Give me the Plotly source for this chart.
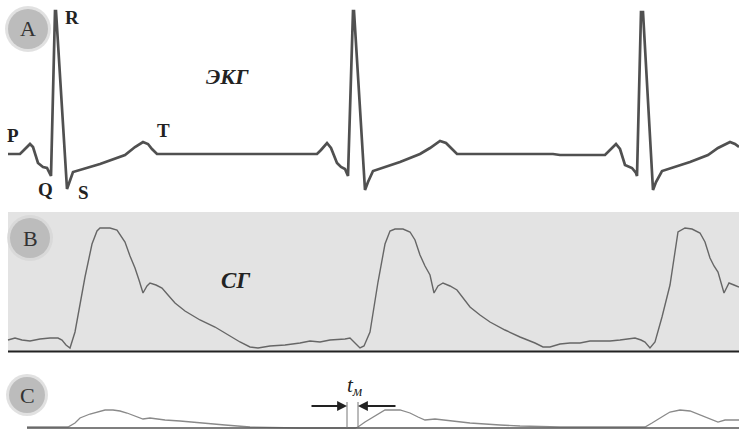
import plotly.graph_objects as go

W, H = 739, 430

# ---- Panel A: ECG (time in samples, amplitude relative to isoline) ----
ecg_t = [8, 20, 24, 30, 33, 38, 43, 47, 50, 51, 55, 56, 67, 70, 73, 100, 125, 135, 143, 148, 152, 157,
         317, 321, 327, 331, 337, 341, 345, 348, 353, 354, 365, 368, 373, 400, 420, 430, 440, 446, 451, 457,
         553, 560, 605, 610, 616, 620, 625, 632, 636, 637, 641, 643, 653, 656, 662, 690, 708, 718, 730, 735, 739]
ecg_v = [0, 0, 4, 10, 7, -9, -13, -14, -20, -22, 143, 143, -35, -26, -18, -10, -1, 7, 12, 10, 5, 0,
         0, 4, 11, 6, -9, -13, -15, -22, 143, 143, -36, -28, -17, -8, 0, 6, 13, 11, 6, 0,
         0, -1, -1, 4, 10, 5, -11, -14, -19, -22, 142, 142, -36, -28, -17, -8, -1, 6, 12, 10, 7]

# ---- Panel B: SG ----
sg_t = [8, 15, 22, 30, 40, 50, 58, 62, 66, 70, 75, 85, 92, 97, 100, 110, 117, 125, 130, 135, 139, 143,
        147, 150, 156, 162, 168, 175, 185, 200, 215, 225, 240, 250, 258, 270, 285, 300, 310, 320, 330, 345,
        350, 356, 360, 364, 370, 378, 385, 390, 395, 403, 410, 415, 420, 425, 430, 434, 438, 443, 450, 457,
        463, 470, 480, 490, 505, 520, 535, 543, 550, 560, 570, 580, 590, 600, 610, 620, 635, 641, 645, 650,
        655, 662, 670, 678, 685, 692, 700, 705, 710, 714, 718, 724, 729, 734, 739]
sg_v = [12, 14, 12, 11, 13, 14, 14, 12, 7, 4, 20, 75, 108, 121, 124, 124, 122, 110, 96, 84, 72, 59,
        66, 69, 67, 64, 57, 49, 41, 32, 25, 19, 10, 5, 4, 6, 7, 9, 11, 10, 12, 13,
        14, 8, 4, 6, 20, 70, 108, 121, 123, 123, 120, 112, 97, 86, 77, 59, 66, 69, 66, 62,
        54, 45, 37, 30, 22, 15, 9, 5, 5, 8, 9, 9, 11, 11, 11, 12, 14, 12, 10, 4,
        10, 35, 67, 120, 124, 123, 119, 110, 94, 86, 80, 59, 69, 67, 65]

# ---- Panel C ----
c_t = [27, 40, 68, 75, 80, 90, 97, 105, 113, 120, 127, 135, 143, 150, 165, 180, 200, 225, 250, 300, 355,
       358, 365, 372, 380, 385, 400, 410, 418, 425, 435, 450, 470, 500, 520, 560, 645,
       652, 658, 665, 670, 680, 690, 700, 710, 718, 725, 739]
c_v = [1, 1, 1, 5, 10, 14, 16, 18, 18, 17, 15, 12, 9, 10, 8, 7, 5, 3, 1, 0, 0,
       1, 6, 10, 15, 18, 18, 15, 11, 8, 9, 7, 5, 3, 2, 1, 1,
       5, 9, 13, 16, 18, 17, 13, 9, 6, 8, 8]

tm_bounds = [347, 358]
tm_level = 22
tm_top = 26

SERIF = "Liberation Serif"


def px(x):
    return x / W


def py(y):
    return 1 - y / H


fig = go.Figure()
fig.add_trace(go.Scatter(x=ecg_t, y=ecg_v, mode="lines", yaxis="y",
                         line=dict(color="#505050", width=2.7), hoverinfo="skip"))
fig.add_trace(go.Scatter(x=sg_t, y=sg_v, mode="lines", yaxis="y2",
                         line=dict(color="#666666", width=1.4), hoverinfo="skip"))
fig.add_trace(go.Scatter(x=c_t, y=c_v, mode="lines", yaxis="y3",
                         line=dict(color="#8a8a8a", width=1.3), hoverinfo="skip"))

shapes = []
# panel B background and baseline
shapes.append(dict(type="rect", xref="paper", yref="paper", x0=px(8), x1=1, y0=py(352), y1=py(212),
                   fillcolor="#e3e3e3", line=dict(width=0), layer="below"))
shapes.append(dict(type="line", xref="paper", yref="paper", x0=px(8), x1=1, y0=py(351.5), y1=py(351.5),
                   line=dict(color="#222222", width=2)))
# panel C baseline
shapes.append(dict(type="line", xref="x", yref="y3", x0=27, x1=739, y0=0, y1=0,
                   line=dict(color="#555555", width=1.5)))
# t_m bounds
for b in tm_bounds:
    shapes.append(dict(type="line", xref="x", yref="y3", x0=b, x1=b, y0=0, y1=tm_top,
                       line=dict(color="#777777", width=1)))

# circle badges
for (cx, cy, r) in [(28, 29, 20), (30, 238, 20), (27, 395, 18)]:
    for dr, col, op in [(3, "#d4d4d4", 0.7), (0, "#bcbcbc", 1.0)]:
        rr = r + dr
        shapes.append(dict(type="circle", xref="paper", yref="paper",
                           x0=px(cx - rr), x1=px(cx + rr), y0=py(cy + rr), y1=py(cy - rr),
                           fillcolor=col, opacity=op, line=dict(width=0), layer="below"))

annotations = []


def label(x, y, text, size, color="#222222"):
    annotations.append(dict(x=px(x), y=py(y), xref="paper", yref="paper", text=text, showarrow=False,
                            xanchor="center", yanchor="middle",
                            font=dict(family=SERIF, size=size, color=color)))


for (cx, cy, letter) in [(28, 29, "A"), (30, 238, "B"), (27, 395, "C")]:
    label(cx, cy, letter, 22, "#333333")

for (x, y, t) in [(72, 18, "R"), (13, 135, "P"), (45, 189, "Q"), (83, 192, "S"), (163, 131, "T")]:
    label(x, y, "<b>%s</b>" % t, 19)

label(227, 77, "<b><i>ЭКГ</i></b>", 22)
label(235, 280, "<b><i>СГ</i></b>", 23)

# t_m arrows
annotations.append(dict(x=tm_bounds[0], y=tm_level, xref="x", yref="y3", ax=310, ay=tm_level,
                        axref="x", ayref="y3", text="", showarrow=True, arrowhead=2, arrowsize=1.1,
                        arrowwidth=1.8, arrowcolor="#222222"))
annotations.append(dict(x=tm_bounds[1], y=tm_level, xref="x", yref="y3", ax=397, ay=tm_level,
                        axref="x", ayref="y3", text="", showarrow=True, arrowhead=2, arrowsize=1.1,
                        arrowwidth=1.8, arrowcolor="#222222"))
annotations.append(dict(x=(tm_bounds[0] + tm_bounds[1]) / 2 + 2, y=42, xref="x", yref="y3",
                        text="<i>t<sub>м</sub></i>", showarrow=False, xanchor="center", yanchor="middle",
                        font=dict(family=SERIF, size=21, color="#222222")))

fig.update_layout(
    width=W, height=H, margin=dict(l=0, r=0, t=0, b=0),
    paper_bgcolor="white", plot_bgcolor="rgba(0,0,0,0)", showlegend=False,
    xaxis=dict(range=[0, W], visible=False, domain=[0, 1], fixedrange=True),
    yaxis=dict(domain=[py(205), 1], range=[154 - 205, 154], visible=False, fixedrange=True),
    yaxis2=dict(domain=[py(352), py(205)], range=[0, 147], visible=False, fixedrange=True, anchor="x"),
    yaxis3=dict(domain=[0, py(360)], range=[-2, 68], visible=False, fixedrange=True, anchor="x"),
    shapes=shapes, annotations=annotations,
)

fig.write_html("out.html", config={"displayModeBar": False},
               post_script="document.body.style.margin='0';document.body.style.overflow='hidden';")
